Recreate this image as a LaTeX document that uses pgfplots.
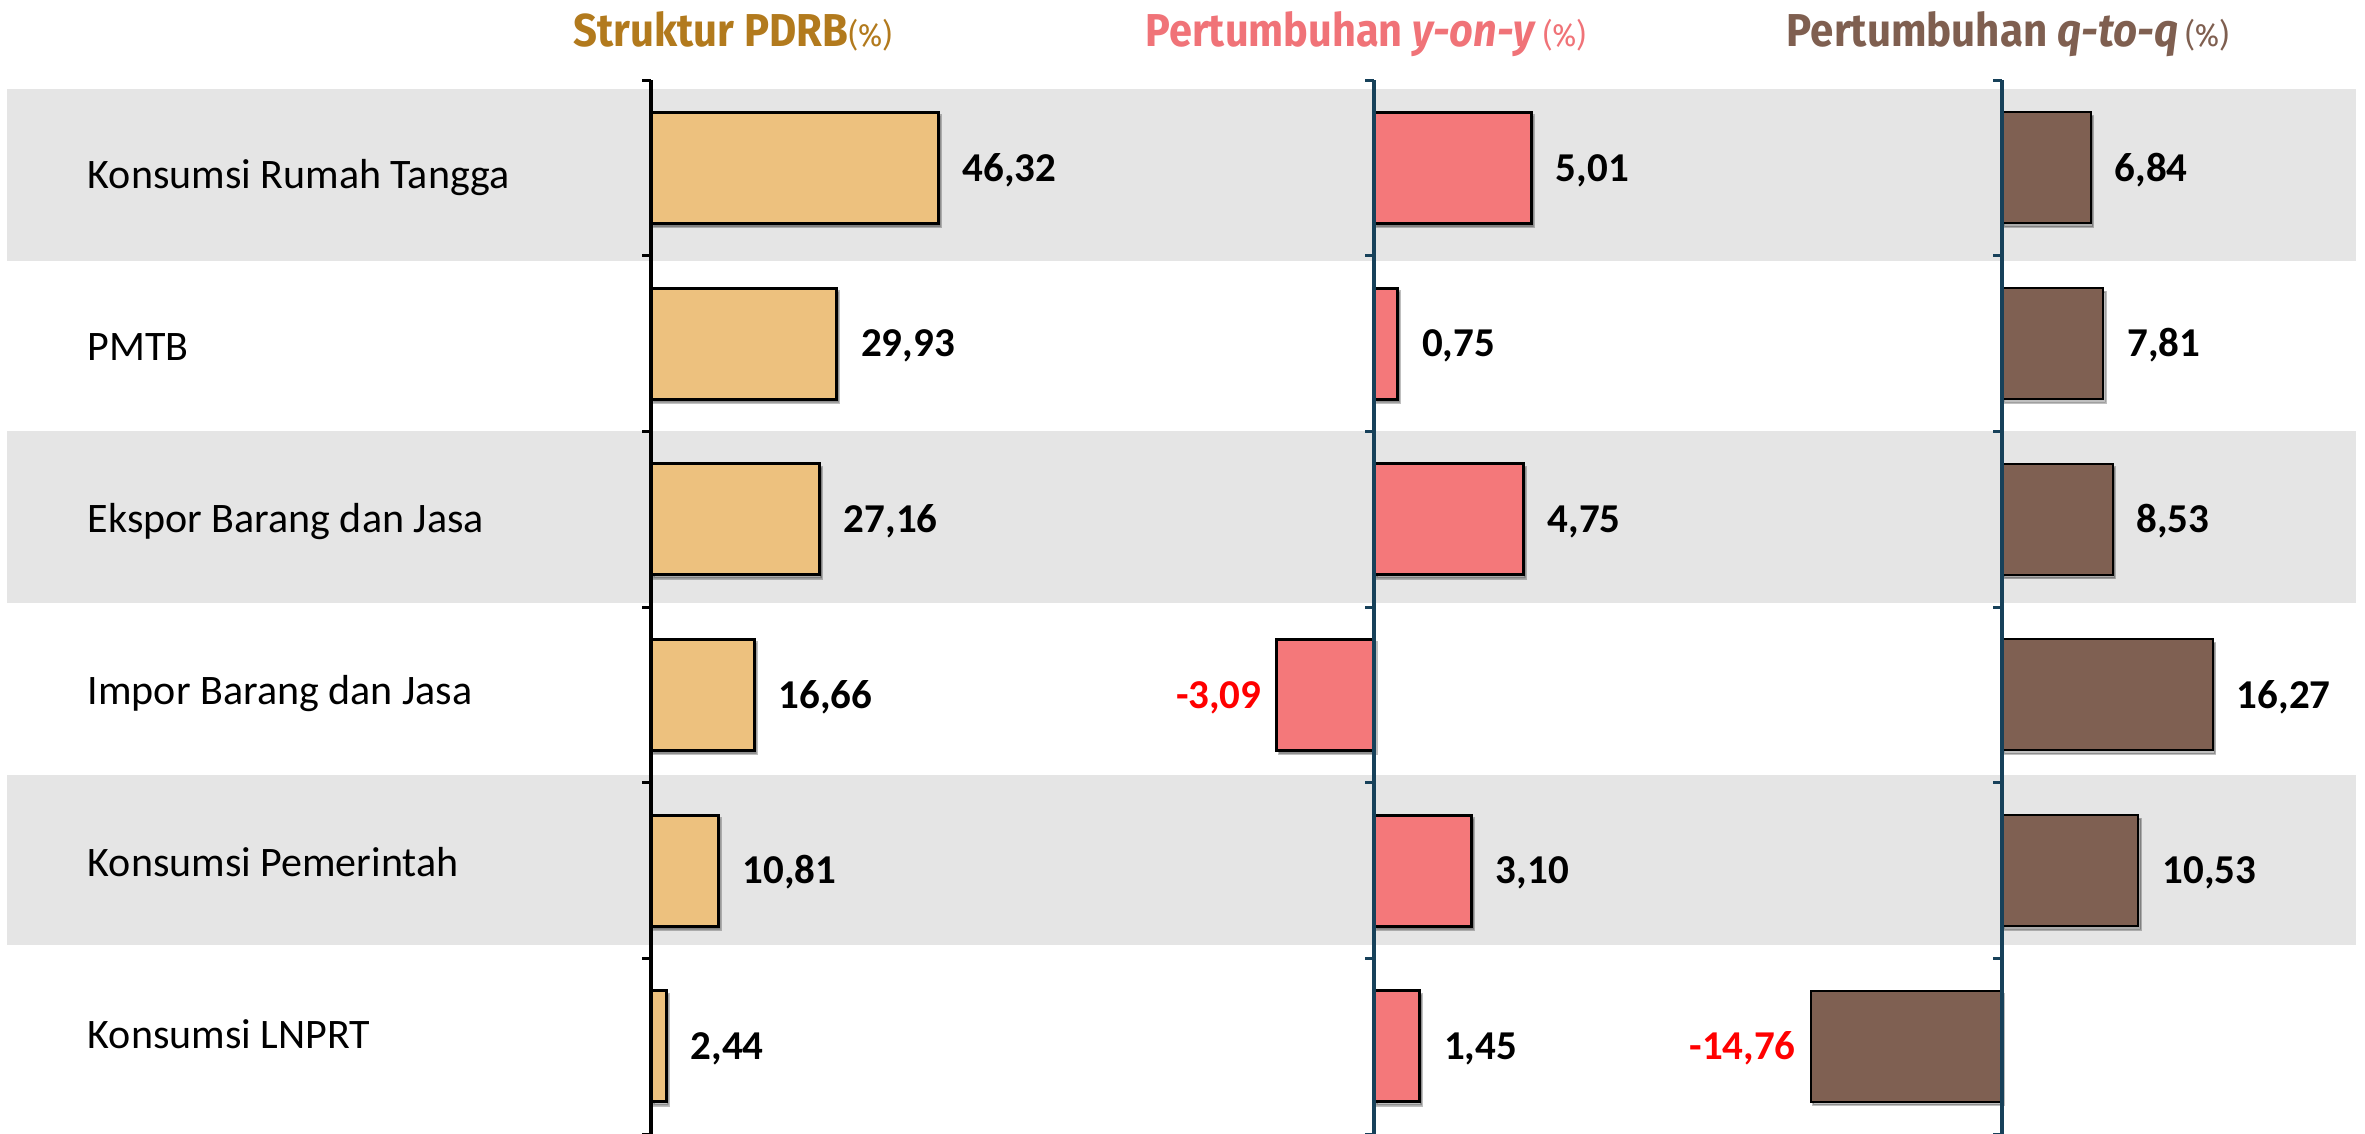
\documentclass[border=0pt]{standalone}
\usepackage{fontspec}
\setmainfont{Carlito}
\newfontfamily\titlefont{Fira Sans}
\usepackage{graphicx}
\usepackage{pgfplots}
\usepackage{pgfplotstable}
\usetikzlibrary{shadows}
\pgfplotsset{compat=1.18}

\definecolor{bandgray}{HTML}{E5E5E5}
\definecolor{titleA}{HTML}{B27A1D}
\definecolor{titleB}{HTML}{F07378}
\definecolor{titleC}{HTML}{7F5F50}
\definecolor{barA}{HTML}{EDC17E}
\definecolor{barB}{HTML}{F4787A}
\definecolor{barC}{HTML}{7F6052}
\definecolor{axisteal}{HTML}{17415A}
\definecolor{negred}{HTML}{FF0000}

% Struktur PDRB (%)
\pgfplotstableread{
i v lab
0 46.32 46,32
1 29.93 29,93
2 27.16 27,16
3 16.66 16,66
4 10.81 10,81
5 2.44 2,44
}\tabA
% Pertumbuhan y-on-y (%)
\pgfplotstableread{
i v lab
0 5.01 5,01
1 0.75 0,75
2 4.75 4,75
3 -3.09 -3,09
4 3.10 3,10
5 1.45 1,45
}\tabB
% Pertumbuhan q-to-q (%)
\pgfplotstableread{
i v lab
0 6.84 6,84
1 7.81 7,81
2 8.53 8,53
3 16.27 16,27
4 10.53 10,53
5 -14.76 -14,76
}\tabC

\pgfplotsset{
  chart/.style={
    hide axis, clip=false, y dir=reverse, y=43.92pt, ymin=-0.5, ymax=5.5,
    anchor=origin, xbar, bar width=27.75pt,
    point meta=explicit symbolic,
  },
  barshadow/.style={drop shadow={shadow xshift=0.6pt, shadow yshift=-0.9pt, opacity=0.25, fill=black}},
  posbar/.style={
    bar shift=0pt, restrict x to domain=0:1000,
    nodes near coords={\pgfplotspointmeta},
    nodes near coords style={font=\bfseries\fontsize{10.25}{12}\selectfont,
      text=black, inner sep=0pt, anchor=base west, xshift=5.75pt, yshift=-3.3pt},
  },
  negbar/.style={
    bar shift=0pt, restrict x to domain=-1000:0,
    nodes near coords={\pgfplotspointmeta},
    nodes near coords style={font=\bfseries\fontsize{10.25}{12}\selectfont,
      text=negred, inner sep=0pt, anchor=base east, xshift=-3.5pt, yshift=-3.3pt},
  },
}

\begin{document}
\begin{tikzpicture}
\useasboundingbox (0pt,0pt) rectangle (591.25pt,-283.5pt);
% background bands
\fill[bandgray] (1.75pt,-22.25pt) rectangle (589pt,-65.25pt);
\fill[bandgray] (1.75pt,-107.75pt) rectangle (589pt,-150.75pt);
\fill[bandgray] (1.75pt,-193.75pt) rectangle (589pt,-236.25pt);
% category labels
\foreach \k/\name in {0/Konsumsi Rumah Tangga,1/PMTB,2/Ekspor Barang dan Jasa,3/Impor Barang dan Jasa,4/Konsumsi Pemerintah,5/Konsumsi LNPRT}{
  \node[anchor=base west, inner sep=0pt, font=\fontsize{10.5}{12}\selectfont]
    at (21.75pt,{-43.75pt-43pt*\k-3.4pt}) {\name};
}
% titles
\node[anchor=base west, inner sep=0pt, text=titleA] at (143.25pt,-11.75pt)
  {\resizebox{79.5pt}{8.75pt}{\titlefont\bfseries Struktur PDRB{\mdseries\fontsize{7}{8}\selectfont(\%)}}};
\node[anchor=base west, inner sep=0pt, text=titleB] at (286.25pt,-11.75pt)
  {\resizebox{110pt}{8.75pt}{\titlefont\bfseries Pertumbuhan \textit{y-on-y}\,{\mdseries\fontsize{7}{8}\selectfont(\%)}}};
\node[anchor=base west, inner sep=0pt, text=titleC] at (446.5pt,-11.75pt)
  {\resizebox{110.5pt}{8.75pt}{\titlefont\bfseries Pertumbuhan \textit{q-to-q}\,{\mdseries\fontsize{7}{8}\selectfont(\%)}}};

% chart 1
\begin{axis}[chart, at={(162.75pt,-41.96pt)}, x=1.55pt, xmin=0, xmax=60]
  \addplot[posbar, fill=barA, draw=black, line width=0.75pt, barshadow] table[x=v, y=i, meta=lab] {\tabA};
  \draw[line width=0.85pt, black] (axis cs:0,-0.5) -- (axis cs:0,5.5);
  \pgfplotsinvokeforeach{-0.5,0.5,1.5,2.5,3.5,4.5,5.5}{
    \draw[line width=0.75pt, black] (axis cs:0,#1) -- ++(-2.25pt,0pt);}
\end{axis}

% chart 2
\begin{axis}[chart, at={(343.5pt,-41.96pt)}, x=7.85pt, xmin=-5, xmax=8]
  \addplot[posbar, fill=barB, draw=black, line width=0.75pt, barshadow] table[x=v, y=i, meta=lab] {\tabB};
  \addplot[negbar, fill=barB, draw=black, line width=0.75pt, barshadow] table[x=v, y=i, meta=lab] {\tabB};
  \draw[line width=0.85pt, axisteal] (axis cs:0,-0.5) -- (axis cs:0,5.5);
  \pgfplotsinvokeforeach{-0.5,0.5,1.5,2.5,3.5,4.5,5.5}{
    \draw[line width=0.75pt, axisteal] (axis cs:0,#1) -- ++(-2.25pt,0pt);}
\end{axis}

% chart 3
\begin{axis}[chart, at={(500.5pt,-41.96pt)}, x=3.24pt, xmin=-16, xmax=20]
  \addplot[posbar, fill=barC, draw=black, line width=0.5pt, barshadow] table[x=v, y=i, meta=lab] {\tabC};
  \addplot[negbar, fill=barC, draw=black, line width=0.5pt, barshadow] table[x=v, y=i, meta=lab] {\tabC};
  \draw[line width=0.85pt, axisteal] (axis cs:0,-0.5) -- (axis cs:0,5.5);
  \pgfplotsinvokeforeach{-0.5,0.5,1.5,2.5,3.5,4.5,5.5}{
    \draw[line width=0.75pt, axisteal] (axis cs:0,#1) -- ++(-2.25pt,0pt);}
\end{axis}
\end{tikzpicture}
\end{document}
